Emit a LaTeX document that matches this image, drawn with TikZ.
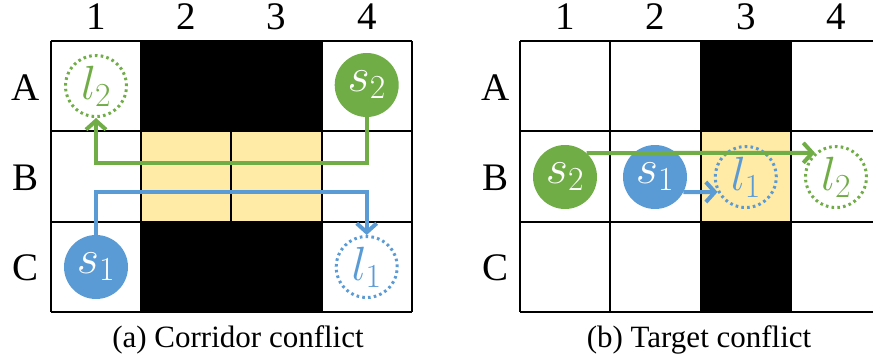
\RequirePackage{fix-cm}
\documentclass[tikz,border=0pt]{standalone}
\usepackage{fontspec}
\setmainfont{Liberation Serif}
\usetikzlibrary{arrows.meta}

\definecolor{agentgreen}{HTML}{70AD47}
\definecolor{agentblue}{HTML}{5B9BD5}
\definecolor{conflictyellow}{HTML}{FFEAA6}

\tikzset{
  gridline/.style={line width=2pt, black},
  axislabel/.style={font=\fontsize{39}{40}\selectfont, inner sep=0pt, anchor=base},
  caption/.style={font=\fontsize{31}{34}\selectfont, inner sep=0pt, anchor=base},
  agentfont/.style={font=\fontsize{48}{48}\selectfont},
  startagent/.style={circle, fill=#1, minimum size=64pt, inner sep=0pt,
    text=white, agentfont},
  goalagent/.style={circle, draw=#1, line width=3pt, dash pattern=on 2.6pt off 3.2pt,
    minimum size=61pt, inner sep=0pt, text=#1, agentfont},
  route/.style={draw=#1, line width=4pt, -{Straight Barb[length=9pt, width=20pt]}},
}

\begin{document}
\begin{tikzpicture}[x=1pt, y=-1pt]
\useasboundingbox (0,0) rectangle (873,364);

% ---------- (a) corridor conflict ----------
\def\L{50.7}
\fill[black] (\L+90.3,41) rectangle (\L+270.9,131.3);
\fill[black] (\L+90.3,221.6) rectangle (\L+270.9,311.9);
\fill[conflictyellow] (\L+90.3,131.3) rectangle (\L+270.9,221.6);
\foreach \i in {0,...,4} \draw[gridline] (\L+90.3*\i,41) -- (\L+90.3*\i,311.9);
\foreach \j in {0,...,3} \draw[gridline] (\L,41+90.3*\j) -- (\L+361.2,41+90.3*\j);

\foreach \n [count=\i from 0] in {1,2,3,4}
  \node[axislabel] (ca\n) at (\L+45.15+90.3*\i,29) {\n};
\foreach \r [count=\j from 0] in {A,B,C}
  \node[axislabel] (ra\r) at (26,100+90.3*\j) {\r};

\node[startagent=agentgreen] (s2a) at (366.7,85) {$s_2$};
\node[goalagent=agentgreen] (l2a) at (96,86) {$l_2$};
\node[startagent=agentblue] (s1a) at (96,267) {$s_1$};
\node[goalagent=agentblue] (l1a) at (366.7,267) {$l_1$};

\coordinate (turnga) at (96,163);
\coordinate (turnba) at (96,192);
\draw[route=agentgreen] (s2a.south) |- (turnga) -- (l2a.south);
\draw[route=agentblue] (s1a.north) -- (turnba) -| (l1a.north);

\node[caption] (capa) at (238,347) {(a) Corridor conflict};

% ---------- (b) target conflict ----------
\def\R{520}
\fill[black] (\R+180.6,41) rectangle (\R+270.9,131.3);
\fill[black] (\R+180.6,221.6) rectangle (\R+270.9,311.9);
\fill[conflictyellow] (\R+180.6,131.3) rectangle (\R+270.9,221.6);
\foreach \i in {0,...,4} \draw[gridline] (\R+90.3*\i,41) -- (\R+90.3*\i,311.9);
\foreach \j in {0,...,3} \draw[gridline] (\R,41+90.3*\j) -- (\R+361.2,41+90.3*\j);

\foreach \n [count=\i from 0] in {1,2,3,4}
  \node[axislabel] (cb\n) at (\R+45.15+90.3*\i,29) {\n};
\foreach \r [count=\j from 0] in {A,B,C}
  \node[axislabel] (rb\r) at (496,100+90.3*\j) {\r};

\node[startagent=agentgreen] (s2b) at (565,177) {$s_2$};
\node[startagent=agentblue] (s1b) at (655,177) {$s_1$};
\node[goalagent=agentblue] (l1b) at (745.8,177) {$l_1$};
\node[goalagent=agentgreen] (l2b) at (836,177) {$l_2$};

\draw[route=agentgreen] (s2b.48.6) -- (l2b.131.4);
\draw[route=agentblue] (s1b.-28) -- (l1b.208);

\node[caption] (capb) at (699,347) {(b) Target conflict};
\end{tikzpicture}
\end{document}
